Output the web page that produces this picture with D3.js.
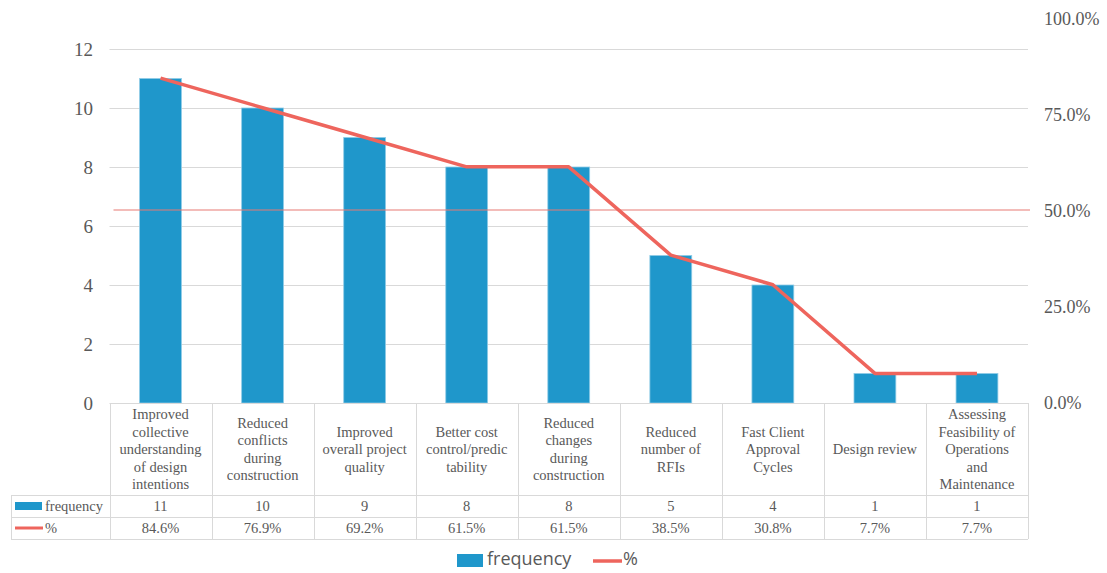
<!DOCTYPE html>
<html><head><meta charset="utf-8">
<script src="https://cdn.jsdelivr.net/npm/d3@7"></script>
<style>body{margin:0;background:#fff;}svg{display:block;}
.serif{font-family:"Liberation Serif","Times New Roman","DejaVu Serif",serif;}
.sans{font-family:"Open Sans","Liberation Sans",sans-serif;}
</style>
</head><body>
<svg id="c" width="1107" height="573"></svg>
<script>
const categories = [
  ["Improved","collective","understanding","of design","intentions"],
  ["Reduced","conflicts","during","construction"],
  ["Improved","overall project","quality"],
  ["Better cost","control/predic","tability"],
  ["Reduced","changes","during","construction"],
  ["Reduced","number of","RFIs"],
  ["Fast Client","Approval","Cycles"],
  ["Design review"],
  ["Assessing","Feasibility of","Operations","and","Maintenance"]
];
const frequency = [11, 10, 9, 8, 8, 5, 4, 1, 1];
const percent = [84.6, 76.9, 69.2, 61.5, 61.5, 38.5, 30.8, 7.7, 7.7];
const leftTicks = [0, 2, 4, 6, 8, 10, 12];
const rightTicks = [0, 25, 50, 75, 100];
const refLine = 50;

const svg = d3.select("#c");
const L = 109.5, R = 1028, T = 49, B = 403;
const x = d3.scaleBand().domain(d3.range(categories.length)).range([L, R]);
const yL = d3.scaleLinear().domain([0, 12]).range([B, T]);
const yR = d3.scaleLinear().domain([0, 100]).range([B, 19]);
const txt = "#595959", grid = "#d9d9d9", blue = "#1f97cb", red = "#ee655d";

// gridlines
svg.append("g").selectAll("line").data(leftTicks.filter(d => d > 0)).join("line")
  .attr("x1", L).attr("x2", R).attr("y1", d => Math.round(yL(d)) + 0.5).attr("y2", d => Math.round(yL(d)) + 0.5)
  .attr("stroke", grid).attr("stroke-width", 1);

// left axis labels
const ga = svg.append("g").attr("transform", `translate(93,0)`)
  .call(d3.axisLeft(yL).tickValues(leftTicks).tickSize(0).tickPadding(0).tickFormat(d3.format("d")));
ga.attr("font-family", null).attr("font-size", null);
ga.select(".domain").remove();
ga.selectAll("text").attr("class", "serif").attr("fill", txt).style("font-size", "19px");

// right axis labels
const gr = svg.append("g").attr("transform", `translate(1044,0)`)
  .call(d3.axisRight(yR).tickValues(rightTicks).tickSize(0).tickPadding(0).tickFormat(d => d3.format(".1f")(d) + "%"));
gr.attr("font-family", null).attr("font-size", null);
gr.select(".domain").remove();
gr.selectAll("text").attr("class", "serif").attr("fill", txt).style("font-size", "18px");

// bars
const bw = x.bandwidth() * 0.41;
svg.append("g").selectAll("rect").data(frequency).join("rect")
  .attr("x", (d, i) => x(i) + x.bandwidth() / 2 - bw / 2)
  .attr("width", bw)
  .attr("y", d => yL(d))
  .attr("height", d => B - yL(d))
  .attr("fill", blue).attr("stroke", "#8fcbe6").attr("stroke-width", 0.8);

// 50% reference line
svg.append("line").attr("x1", L + 4).attr("x2", R + 2)
  .attr("y1", yR(refLine) - 1).attr("y2", yR(refLine) - 1)
  .attr("stroke", "#e77a75").attr("stroke-width", 1.2);

// cumulative % line
svg.append("path").datum(percent)
  .attr("d", d3.line().x((d, i) => x(i) + x.bandwidth() / 2).y(d => yR(d)))
  .attr("fill", "none").attr("stroke", red).attr("stroke-width", 3.5).attr("stroke-linejoin", "round");

// data table
const rowCat = [B, 495], rowF = [495, 517], rowP = [517, 539];
const tb = svg.append("g").attr("stroke", grid).attr("stroke-width", 1);
const px = v => Math.round(v) + 0.5;
tb.append("line").attr("x1", L).attr("x2", R).attr("y1", px(B)).attr("y2", px(B));
[495, 517, 539].forEach(yy => tb.append("line").attr("x1", 11).attr("x2", R).attr("y1", px(yy)).attr("y2", px(yy)));
d3.range(categories.length + 1).forEach(i => {
  const xx = i < categories.length ? x(i) : R;
  tb.append("line").attr("x1", px(xx)).attr("x2", px(xx)).attr("y1", B).attr("y2", 539);
});
tb.append("line").attr("x1", 11.5).attr("x2", 11.5).attr("y1", 495).attr("y2", 539);

const tt = svg.append("g").attr("class", "serif").style("font-size", "14.5px").attr("fill", txt).attr("text-anchor", "middle");
categories.forEach((lines, i) => {
  const cx = x(i) + x.bandwidth() / 2;
  const lh = 17.5;
  const cy = (rowCat[0] + rowCat[1]) / 2;
  const start = cy - (lines.length - 1) * lh / 2;
  lines.forEach((s, j) => {
    tt.append("text").attr("x", cx).attr("y", start + j * lh).attr("dy", "0.35em").text(s);
  });
  tt.append("text").attr("x", cx).attr("y", (rowF[0] + rowF[1]) / 2).attr("dy", "0.35em").text(frequency[i]);
  tt.append("text").attr("x", cx).attr("y", (rowP[0] + rowP[1]) / 2).attr("dy", "0.35em").text(d3.format(".1f")(percent[i]) + "%");
});
// table legend keys
svg.append("rect").attr("x", 15).attr("y", 502).attr("width", 27).attr("height", 8).attr("fill", blue);
svg.append("text").attr("class", "serif").attr("x", 45).attr("y", 506).attr("dy", "0.35em").style("font-size", "14.5px").attr("fill", txt).text("frequency");
svg.append("line").attr("x1", 15).attr("x2", 43).attr("y1", 528).attr("y2", 528).attr("stroke", red).attr("stroke-width", 3);
svg.append("text").attr("class", "serif").attr("x", 45).attr("y", 528).attr("dy", "0.35em").style("font-size", "14.5px").attr("fill", txt).text("%");

// bottom legend
svg.append("rect").attr("x", 457).attr("y", 554).attr("width", 26).attr("height", 13).attr("fill", blue);
svg.append("text").attr("class", "sans").attr("x", 487).attr("y", 559).attr("dy", "0.35em").style("font-size", "18px").attr("fill", txt).text("frequency");
svg.append("line").attr("x1", 593).attr("x2", 622).attr("y1", 561).attr("y2", 561).attr("stroke", red).attr("stroke-width", 3.5);
svg.append("text").attr("class", "sans").attr("x", 623).attr("y", 559).attr("dy", "0.35em").style("font-size", "18px").attr("fill", txt).text("%");
</script>
</body></html>
